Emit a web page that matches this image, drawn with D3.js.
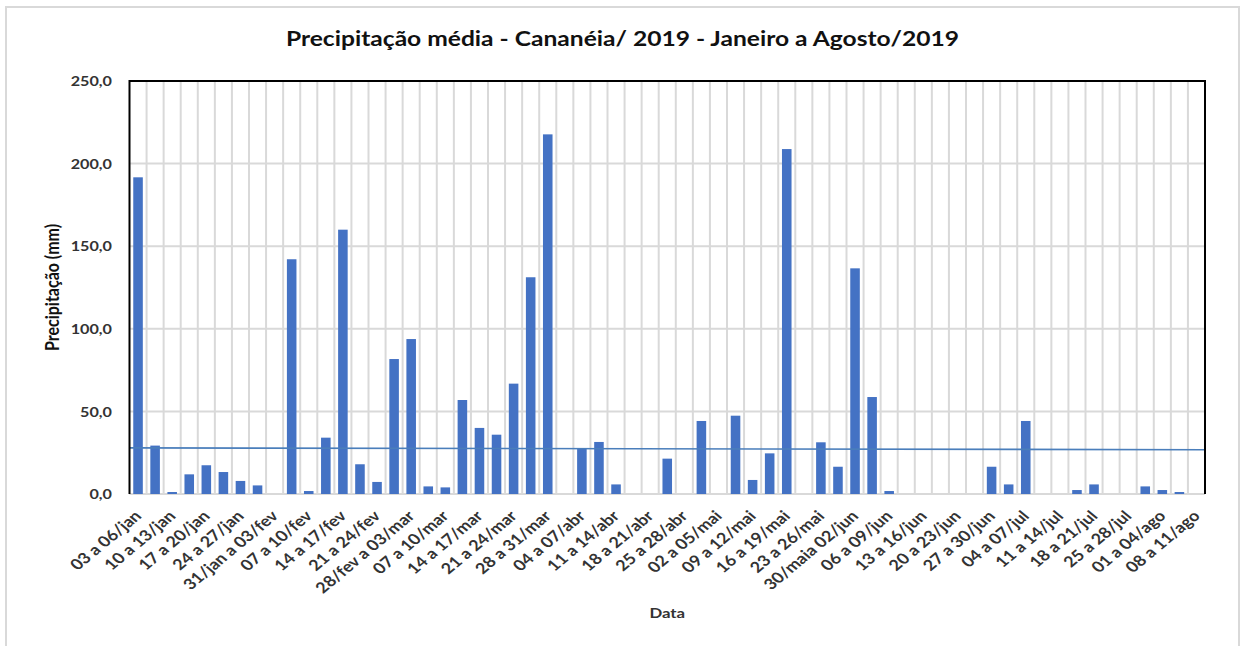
<!DOCTYPE html>
<html>
<head>
<meta charset="utf-8">
<script src="https://cdn.jsdelivr.net/npm/d3@7"></script>
<style>
  html, body { margin: 0; padding: 0; background: #fff; }
  svg { display: block; }
  text { font-family: Lato, "Open Sans", sans-serif; font-weight: 700; }
</style>
</head>
<body>
<svg id="chart" width="1243" height="646"></svg>
<script>
// Semi-weekly periods, Jan to Aug 2019
const categories = [
  "03 a 06/jan", "07 a 09/jan", "10 a 13/jan", "14 a 16/jan", "17 a 20/jan", "21 a 23/jan",
  "24 a 27/jan", "28 a 30/jan", "31/jan a 03/fev", "04 a 06/fev", "07 a 10/fev", "11 a 13/fev",
  "14 a 17/fev", "18 a 20/fev", "21 a 24/fev", "25 a 27/fev", "28/fev a 03/mar", "04 a 06/mar",
  "07 a 10/mar", "11 a 13/mar", "14 a 17/mar", "18 a 20/mar", "21 a 24/mar", "25 a 27/mar",
  "28 a 31/mar", "01 a 03/abr", "04 a 07/abr", "08 a 10/abr", "11 a 14/abr", "15 a 17/abr",
  "18 a 21/abr", "22 a 24/abr", "25 a 28/abr", "29/abr a 01/mai", "02 a 05/mai", "06 a 08/mai",
  "09 a 12/mai", "13 a 15/mai", "16 a 19/mai", "20 a 22/mai", "23 a 26/mai", "27 a 29/mai",
  "30/maia 02/jun", "03 a 05/jun", "06 a 09/jun", "10 a 12/jun", "13 a 16/jun", "17 a 19/jun",
  "20 a 23/jun", "24 a 26/jun", "27 a 30/jun", "01 a 03/jul", "04 a 07/jul", "08 a 10/jul",
  "11 a 14/jul", "15 a 17/jul", "18 a 21/jul", "22 a 24/jul", "25 a 28/jul", "29 a 31/jul",
  "01 a 04/ago", "05 a 07/ago", "08 a 11/ago"
];

// Mean precipitation per period (mm)
const precipitation = [
  191.7, 29.3, 1.2, 11.9, 17.4, 13.3,
  7.9, 5.2, 0, 142.1, 1.8, 34.1,
  160.0, 18.0, 7.3, 81.7, 93.8, 4.6,
  4.0, 56.9, 40.0, 35.9, 66.8, 131.2,
  217.7, 0, 27.4, 31.5, 5.8, 0,
  0, 21.4, 0, 44.2, 0, 47.4,
  8.5, 24.6, 208.8, 0, 31.3, 16.5,
  136.6, 58.7, 1.8, 0, 0, 0,
  0, 0, 16.5, 5.8, 44.2, 0,
  0, 2.4, 5.8, 0, 0, 4.6,
  2.4, 1.2, 0
];

// Reference line: value at the start and at the end of the period axis
const referenceLine = [27.9, 26.8];

const yTicks = [0, 50, 100, 150, 200, 250];

const titleText = "Precipitação média - Cananéia/ 2019 - Janeiro a Agosto/2019";
const xTitleText = "Data";
const yTitleText = "Precipitação (mm)";

const W = 1243, H = 646;
const plot = { left: 129.5, right: 1205, top: 81, bottom: 494 };
const textStretch = 1.2;   // horizontal widening of all lettering
const barColor = "#4472c4";
const gridColor = "#d9d9d9";

const ptBR = d3.formatLocale({ decimal: ",", thousands: ".", grouping: [3], currency: ["R$", ""] });
const fmt = ptBR.format(".1f");

const svg = d3.select("#chart");

svg.append("rect").attr("width", W).attr("height", H).attr("fill", "#fff");

// chart area outline
svg.append("rect")
  .attr("x", 6).attr("y", 7)
  .attr("width", 1233).attr("height", 700)
  .attr("fill", "none")
  .attr("stroke", gridColor)
  .attr("stroke-width", 2);

const x = d3.scaleBand().domain(categories).range([plot.left, plot.right]).padding(0);
const y = d3.scaleLinear().domain([0, 250]).range([plot.bottom, plot.top]);
const barWidth = x.step() * 0.56;

// horizontal gridlines
svg.append("g")
  .selectAll("line")
  .data(yTicks)
  .join("line")
  .attr("x1", plot.left).attr("x2", plot.right)
  .attr("y1", d => y(d)).attr("y2", d => y(d))
  .attr("stroke", gridColor)
  .attr("stroke-width", 2);

// vertical gridlines at period boundaries
svg.append("g")
  .selectAll("line")
  .data(categories.slice(1))
  .join("line")
  .attr("x1", d => x(d)).attr("x2", d => x(d))
  .attr("y1", y(0)).attr("y2", y(250))
  .attr("stroke", gridColor)
  .attr("stroke-width", 2);

// bars
svg.append("g")
  .selectAll("rect")
  .data(categories.map((c, i) => ({ c, v: precipitation[i] })).filter(d => d.v > 0))
  .join("rect")
  .attr("x", d => x(d.c) + (x.step() - barWidth) / 2)
  .attr("width", barWidth)
  .attr("y", d => y(d.v))
  .attr("height", d => y(0) - y(d.v))
  .attr("fill", barColor);

// reference line across the plot
const [x0, x1] = x.range();
svg.append("path")
  .datum([[x0, referenceLine[0]], [x1, referenceLine[1]]])
  .attr("d", d3.line().x(d => d[0]).y(d => y(d[1])))
  .attr("fill", "none")
  .attr("stroke", "#4a7ebb")
  .attr("stroke-width", 1.6);

// plot area border (left, top, right)
svg.append("path")
  .attr("d", `M${x0},${y(0)}V${y(250)}H${x1}V${y(0)}`)
  .attr("fill", "none")
  .attr("stroke", "#000")
  .attr("stroke-width", 2);

// y-axis tick labels
const yAxis = d3.axisLeft(y).tickValues(yTicks).tickFormat(fmt).tickSize(0).tickPadding(0);
const yg = svg.append("g").attr("transform", `translate(${plot.left - 17.5},0)`).call(yAxis);
yg.select(".domain").remove();
yg.selectAll(".tick text")
  .attr("x", null).attr("dy", "0.35em")
  .attr("transform", `scale(${textStretch},1)`)
  .attr("font-size", 13.5)
  .attr("font-family", null)
  .attr("fill", "#333");

// x-axis tick labels: every other period
const xAxis = d3.axisBottom(x)
  .tickValues(categories.filter((c, i) => i % 2 === 0))
  .tickSize(0).tickPadding(0);
const xg = svg.append("g").attr("transform", `translate(0,${plot.bottom})`).call(xAxis);
xg.select(".domain").remove();
xg.selectAll(".tick text")
  .attr("y", null).attr("dy", null)
  .attr("text-anchor", "end")
  .attr("transform", `translate(4.5,23) scale(${textStretch},1) rotate(-45)`)
  .attr("font-size", 15)
  .attr("font-family", null)
  .attr("fill", "#333");

// titles
svg.append("text")
  .attr("transform", `translate(${(6 + 1239) / 2},46) scale(${textStretch},1)`)
  .attr("text-anchor", "middle")
  .attr("font-size", 20.5)
  .attr("fill", "#111")
  .text(titleText);

svg.append("text")
  .attr("transform", `translate(${(plot.left + plot.right) / 2},618) scale(${textStretch},1)`)
  .attr("text-anchor", "middle")
  .attr("font-size", 14)
  .attr("fill", "#333")
  .text(xTitleText);

svg.append("text")
  .attr("transform", `translate(59,${(plot.top + plot.bottom) / 2}) scale(${textStretch},1) rotate(-90)`)
  .attr("text-anchor", "middle")
  .attr("font-size", 16)
  .attr("fill", "#111")
  .text(yTitleText);
</script>
</body>
</html>
